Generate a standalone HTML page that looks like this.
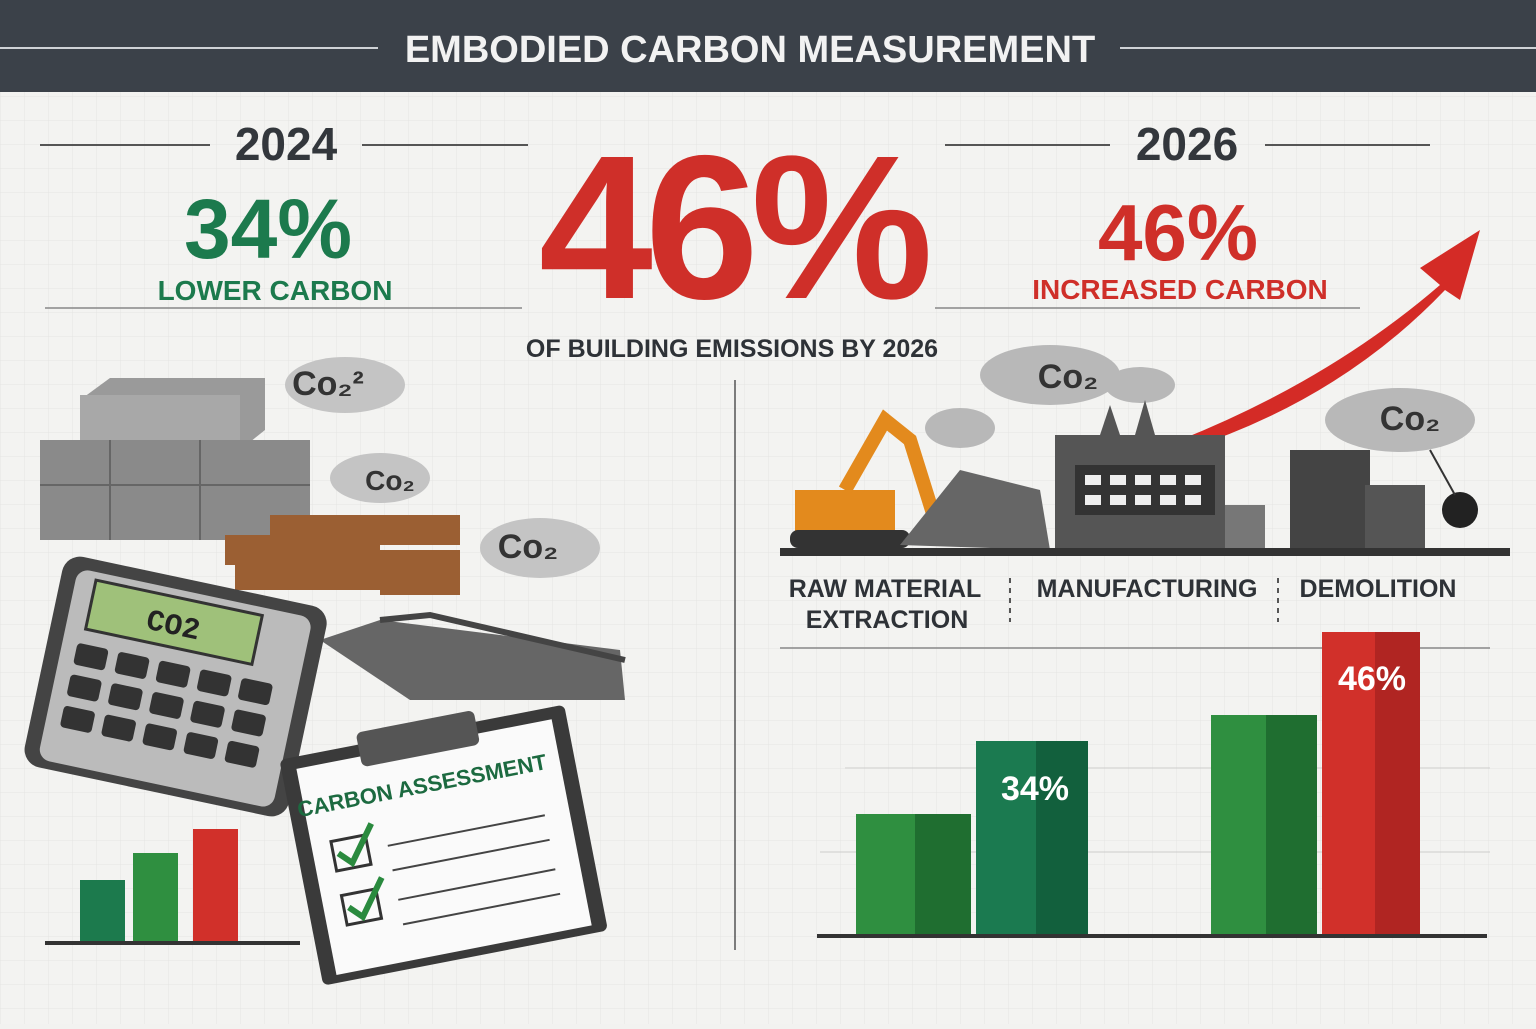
<!DOCTYPE html>
<html><head><meta charset="utf-8"><style>
body{margin:0;width:1536px;height:1024px;overflow:hidden;background:#f2f2f0;font-family:"Liberation Sans",sans-serif}
</style></head><body>
<svg width="1536" height="1024" viewBox="0 0 1536 1024" xmlns="http://www.w3.org/2000/svg" font-family="Liberation Sans, sans-serif" font-weight="bold">
<defs>
<pattern id="g" width="24" height="24" patternUnits="userSpaceOnUse"><path d="M24 0H0V24" fill="none" stroke="#e4e4e2" stroke-width="1"/></pattern>
</defs>
<rect width="1536" height="1024" fill="#f3f3f1"/>
<rect y="92" width="1536" height="932" fill="url(#g)"/>
<rect width="1536" height="92" fill="#3b4149"/>
<line x1="0" y1="48" x2="378" y2="48" stroke="#cfd2d6" stroke-width="2"/>
<line x1="1120" y1="48" x2="1536" y2="48" stroke="#cfd2d6" stroke-width="2"/>
<text x="750" y="62" text-anchor="middle" font-size="38" fill="#f2f2f2">EMBODIED CARBON MEASUREMENT</text>

<line x1="40" y1="145" x2="210" y2="145" stroke="#555" stroke-width="2"/>
<line x1="362" y1="145" x2="528" y2="145" stroke="#555" stroke-width="2"/>
<text x="286" y="160" text-anchor="middle" font-size="46" fill="#33373c">2024</text>
<text x="268" y="258" text-anchor="middle" font-size="84" fill="#1c7a4d">34%</text>
<text x="275" y="300" text-anchor="middle" font-size="28" fill="#1c7a4d">LOWER CARBON</text>
<line x1="45" y1="308" x2="522" y2="308" stroke="#888" stroke-width="1.5"/>

<text x="732" y="298" text-anchor="middle" font-size="205" fill="#cf2f29" letter-spacing="-8">46%</text>
<text x="732" y="357" text-anchor="middle" font-size="25" fill="#2e3237">OF BUILDING EMISSIONS BY 2026</text>
<line x1="735" y1="380" x2="735" y2="950" stroke="#555" stroke-width="1.5"/>

<line x1="945" y1="145" x2="1110" y2="145" stroke="#555" stroke-width="2"/>
<line x1="1265" y1="145" x2="1430" y2="145" stroke="#555" stroke-width="2"/>
<text x="1187" y="160" text-anchor="middle" font-size="46" fill="#33373c">2026</text>
<text x="1178" y="260" text-anchor="middle" font-size="80" fill="#cf2f29">46%</text>
<text x="1180" y="299" text-anchor="middle" font-size="28" fill="#cf2f29">INCREASED CARBON</text>
<line x1="935" y1="308" x2="1360" y2="308" stroke="#888" stroke-width="1.5"/>

<path d="M1180 440 Q1330 380 1440 285 L1420 268 L1480 230 L1460 300 L1445 290 Q1340 400 1185 450 Z" fill="#d42b26"/>

<g fill="#b8b8b8"><ellipse cx="1050" cy="375" rx="70" ry="30"/><ellipse cx="1140" cy="385" rx="35" ry="18"/><ellipse cx="960" cy="428" rx="35" ry="20"/><ellipse cx="1400" cy="420" rx="75" ry="32"/></g>
<text x="1068" y="388" text-anchor="middle" font-size="34" fill="#333">Co₂</text>
<text x="1410" y="430" text-anchor="middle" font-size="34" fill="#333">Co₂</text>
<rect x="795" y="490" width="100" height="45" fill="#e38a1d"/>
<path d="M845 490 L885 420 L910 440 L935 520" fill="none" stroke="#e38a1d" stroke-width="14"/>
<rect x="790" y="530" width="120" height="18" rx="8" fill="#333"/>
<path d="M900 545 L960 470 L1040 490 L1050 550 Z" fill="#666"/>
<rect x="1055" y="435" width="170" height="115" fill="#555"/>
<rect x="1075" y="465" width="140" height="50" fill="#333"/><g fill="#eee"><rect x="1085" y="475" width="16" height="10"/><rect x="1110" y="475" width="16" height="10"/><rect x="1135" y="475" width="16" height="10"/><rect x="1160" y="475" width="16" height="10"/><rect x="1185" y="475" width="16" height="10"/><rect x="1085" y="495" width="16" height="10"/><rect x="1110" y="495" width="16" height="10"/><rect x="1135" y="495" width="16" height="10"/><rect x="1160" y="495" width="16" height="10"/><rect x="1185" y="495" width="16" height="10"/></g>
<path d="M1100 435 L1110 405 L1120 435 Z M1135 435 L1145 400 L1155 435Z" fill="#555"/>
<rect x="1225" y="505" width="40" height="45" fill="#777"/>
<rect x="1290" y="450" width="80" height="100" fill="#444"/>
<rect x="1365" y="485" width="60" height="65" fill="#555"/>
<circle cx="1460" cy="510" r="18" fill="#222"/>
<line x1="1430" y1="450" x2="1455" y2="495" stroke="#333" stroke-width="2"/>
<rect x="780" y="548" width="730" height="8" fill="#333"/>

<text font-size="25" fill="#2e3237" text-anchor="middle"><tspan x="885" y="597">RAW MATERIAL</tspan><tspan x="887" y="628">EXTRACTION</tspan></text>
<text x="1147" y="597" text-anchor="middle" font-size="25" fill="#2e3237">MANUFACTURING</text>
<text x="1378" y="597" text-anchor="middle" font-size="25" fill="#2e3237">DEMOLITION</text>
<line x1="1010" y1="578" x2="1010" y2="622" stroke="#555" stroke-width="2" stroke-dasharray="5,5"/>
<line x1="1278" y1="578" x2="1278" y2="622" stroke="#555" stroke-width="2" stroke-dasharray="5,5"/>
<line x1="780" y1="648" x2="1490" y2="648" stroke="#888" stroke-width="1.5"/>

<line x1="845" y1="768" x2="1490" y2="768" stroke="#ccc"/>
<line x1="820" y1="852" x2="1490" y2="852" stroke="#ccc"/>
<rect x="856" y="814" width="115" height="121" fill="#2f8f40"/><rect x="915" y="814" width="56" height="121" fill="#1f6e30"/>
<rect x="976" y="741" width="112" height="194" fill="#1b7a50"/><rect x="1036" y="741" width="52" height="194" fill="#12603d"/>
<text x="1035" y="800" text-anchor="middle" font-size="34" fill="#fff">34%</text>
<rect x="1211" y="715" width="106" height="220" fill="#2f8f40"/><rect x="1266" y="715" width="51" height="220" fill="#1f6e30"/>
<rect x="1322" y="632" width="98" height="303" fill="#d1302a"/><rect x="1375" y="632" width="45" height="303" fill="#b02522"/>
<text x="1372" y="690" text-anchor="middle" font-size="34" fill="#fff">46%</text>
<rect x="817" y="934" width="670" height="4" fill="#333"/>

<g fill="#c4c4c4"><ellipse cx="345" cy="385" rx="60" ry="28"/><ellipse cx="380" cy="478" rx="50" ry="25"/><ellipse cx="540" cy="548" rx="60" ry="30"/></g>
<text x="328" y="395" text-anchor="middle" font-size="34" fill="#333">Co₂²</text>
<text x="390" y="490" text-anchor="middle" font-size="28" fill="#333">Co₂</text>
<text x="528" y="558" text-anchor="middle" font-size="34" fill="#333">Co₂</text>
<path d="M80 400 L110 378 L265 378 L265 430 L240 450 L80 450Z" fill="#9a9a9a"/>
<rect x="80" y="395" width="160" height="55" fill="#a8a8a8"/>
<rect x="40" y="440" width="270" height="100" fill="#8a8a8a"/>
<g stroke="#666" stroke-width="2"><line x1="40" y1="485" x2="310" y2="485"/><line x1="110" y1="440" x2="110" y2="540"/><line x1="200" y1="440" x2="200" y2="540"/></g>
<g fill="#9b5f33"><rect x="225" y="535" width="155" height="30"/><rect x="235" y="560" width="145" height="30"/><rect x="270" y="515" width="190" height="30"/><rect x="380" y="550" width="80" height="45"/></g>
<path d="M320 640 L380 620 L620 650 L625 700 L410 700 Z" fill="#666"/>
<path d="M380 620 L430 615 L625 660" fill="none" stroke="#444" stroke-width="6"/>
<g transform="rotate(12 180 690)">
<rect x="40" y="580" width="270" height="215" rx="18" fill="#444"/>
<rect x="55" y="592" width="240" height="195" rx="12" fill="#bbb"/>
<rect x="75" y="600" width="170" height="50" fill="#9fc17a" stroke="#333" stroke-width="3"/>
<text x="160" y="637" text-anchor="middle" font-size="30" fill="#222" font-family="Liberation Mono, monospace">CO2</text>
<g fill="#333"><rect x="70" y="665" width="32" height="22" rx="4"/><rect x="112" y="665" width="32" height="22" rx="4"/><rect x="154" y="665" width="32" height="22" rx="4"/><rect x="196" y="665" width="32" height="22" rx="4"/><rect x="238" y="665" width="32" height="22" rx="4"/>
<rect x="70" y="697" width="32" height="22" rx="4"/><rect x="112" y="697" width="32" height="22" rx="4"/><rect x="154" y="697" width="32" height="22" rx="4"/><rect x="196" y="697" width="32" height="22" rx="4"/><rect x="238" y="697" width="32" height="22" rx="4"/>
<rect x="70" y="729" width="32" height="22" rx="4"/><rect x="112" y="729" width="32" height="22" rx="4"/><rect x="154" y="729" width="32" height="22" rx="4"/><rect x="196" y="729" width="32" height="22" rx="4"/><rect x="238" y="729" width="32" height="22" rx="4"/></g>
</g>
<g transform="translate(0,-60) rotate(-11 440 860)">
<rect x="290" y="790" width="290" height="230" rx="6" fill="#3a3a3a"/>
<rect x="305" y="802" width="260" height="210" fill="#fafafa"/>
<rect x="370" y="778" width="120" height="35" rx="6" fill="#555"/>
<text x="425" y="850" text-anchor="middle" font-size="22" fill="#1c6a40">CARBON ASSESSMENT</text>
<rect x="325" y="880" width="35" height="30" fill="none" stroke="#333" stroke-width="3"/><rect x="325" y="935" width="35" height="30" fill="none" stroke="#333" stroke-width="3"/>
<path d="M330 893 L342 905 L368 870" fill="none" stroke="#2a8a3e" stroke-width="6"/>
<path d="M330 948 L342 960 L368 925" fill="none" stroke="#2a8a3e" stroke-width="6"/>
<g stroke="#444" stroke-width="2"><line x1="380" y1="895" x2="540" y2="895"/><line x1="380" y1="920" x2="540" y2="920"/><line x1="380" y1="950" x2="540" y2="950"/><line x1="380" y1="975" x2="540" y2="975"/></g>
</g>
<rect x="80" y="880" width="45" height="62" fill="#1c7a4d"/>
<rect x="133" y="853" width="45" height="89" fill="#2f8f40"/>
<rect x="193" y="829" width="45" height="113" fill="#d1302a"/>
<rect x="45" y="941" width="255" height="4" fill="#333"/>
</svg>
</body></html>
